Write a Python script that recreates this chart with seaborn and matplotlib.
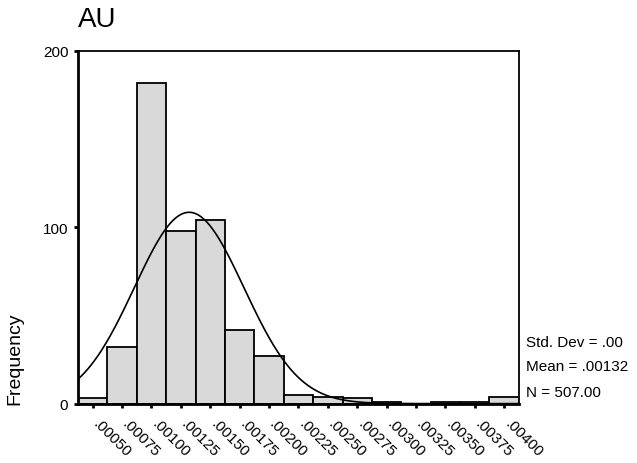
import numpy as np
import pandas as pd
import seaborn as sns
import matplotlib.pyplot as plt

# 階級の中心値とその度数
bin_centers = [0.00050, 0.00075, 0.00100, 0.00125, 0.00150, 0.00175, 0.00200, 0.00225,
               0.00250, 0.00275, 0.00300, 0.00325, 0.00350, 0.00375, 0.00400]
counts = [3, 32, 182, 98, 104, 42, 27, 5, 4, 3, 1, 0, 1, 1, 4]
tick_labels = [".00050", ".00075", ".00100", ".00125", ".00150", ".00175", ".00200", ".00225",
               ".00250", ".00275", ".00300", ".00325", ".00350", ".00375", ".00400"]

# 統計量
mean_val = 0.00132
sd_val = 0.000466
n_total = 507
bin_width = 0.00025

sns.set_style("white", {"text.color": "black", "xtick.color": "black",
                        "ytick.color": "black", "axes.edgecolor": "black"})
plt.rcParams['font.family'] = ['Liberation Sans', 'DejaVu Sans']

df = pd.DataFrame({"AU": bin_centers, "count": counts})
edges = [c - bin_width / 2 for c in bin_centers] + [bin_centers[-1] + bin_width / 2]

fig = plt.figure(figsize=(6.37, 4.64), dpi=100)
ax = fig.add_axes([0.1225, 0.128, 0.692, 0.76])

sns.histplot(data=df, x="AU", weights="count", bins=edges, color="#d9d9d9",
             edgecolor="black", linewidth=1.3, alpha=1, ax=ax)

# 正規分布曲線
xs = np.linspace(edges[0], edges[-1], 400)
ys = n_total * bin_width / (sd_val * np.sqrt(2 * np.pi)) * np.exp(-0.5 * ((xs - mean_val) / sd_val) ** 2)
ax.plot(xs, ys, color="black", linewidth=1.2)

ax.set_xlim(edges[0], edges[-1])
ax.set_ylim(0, 200)
ax.set_yticks([0, 100, 200])
ax.set_yticklabels(["0", "100", "200"], fontsize=11)
ax.set_xticks(bin_centers)
ax.set_xticklabels(tick_labels, rotation=-45, ha="left", va="baseline",
                   rotation_mode="anchor", fontsize=11)
ax.tick_params(axis="x", direction="out", length=3, width=2, pad=12, bottom=True)
ax.tick_params(axis="y", direction="out", length=3, width=2, pad=4, left=True)
ax.set_xlabel("")
ax.set_ylabel("")

for side in ["top", "right"]:
    ax.spines[side].set_linewidth(1.3)
for side in ["left", "bottom"]:
    ax.spines[side].set_linewidth(2)

fig.text(0.122, 0.985, "AU", fontsize=20, ha="left", va="top")
fig.text(0.0235, 0.226, "Frequency", fontsize=14, rotation=90, ha="center", va="center")

fig.text(0.826, 0.2615, "Std. Dev = .00", fontsize=11, ha="left", va="center")
fig.text(0.826, 0.2097, "Mean = .00132", fontsize=11, ha="left", va="center")
fig.text(0.826, 0.1524, "N = 507.00", fontsize=11, ha="left", va="center")

plt.savefig("out.png", dpi=100)
plt.close()
